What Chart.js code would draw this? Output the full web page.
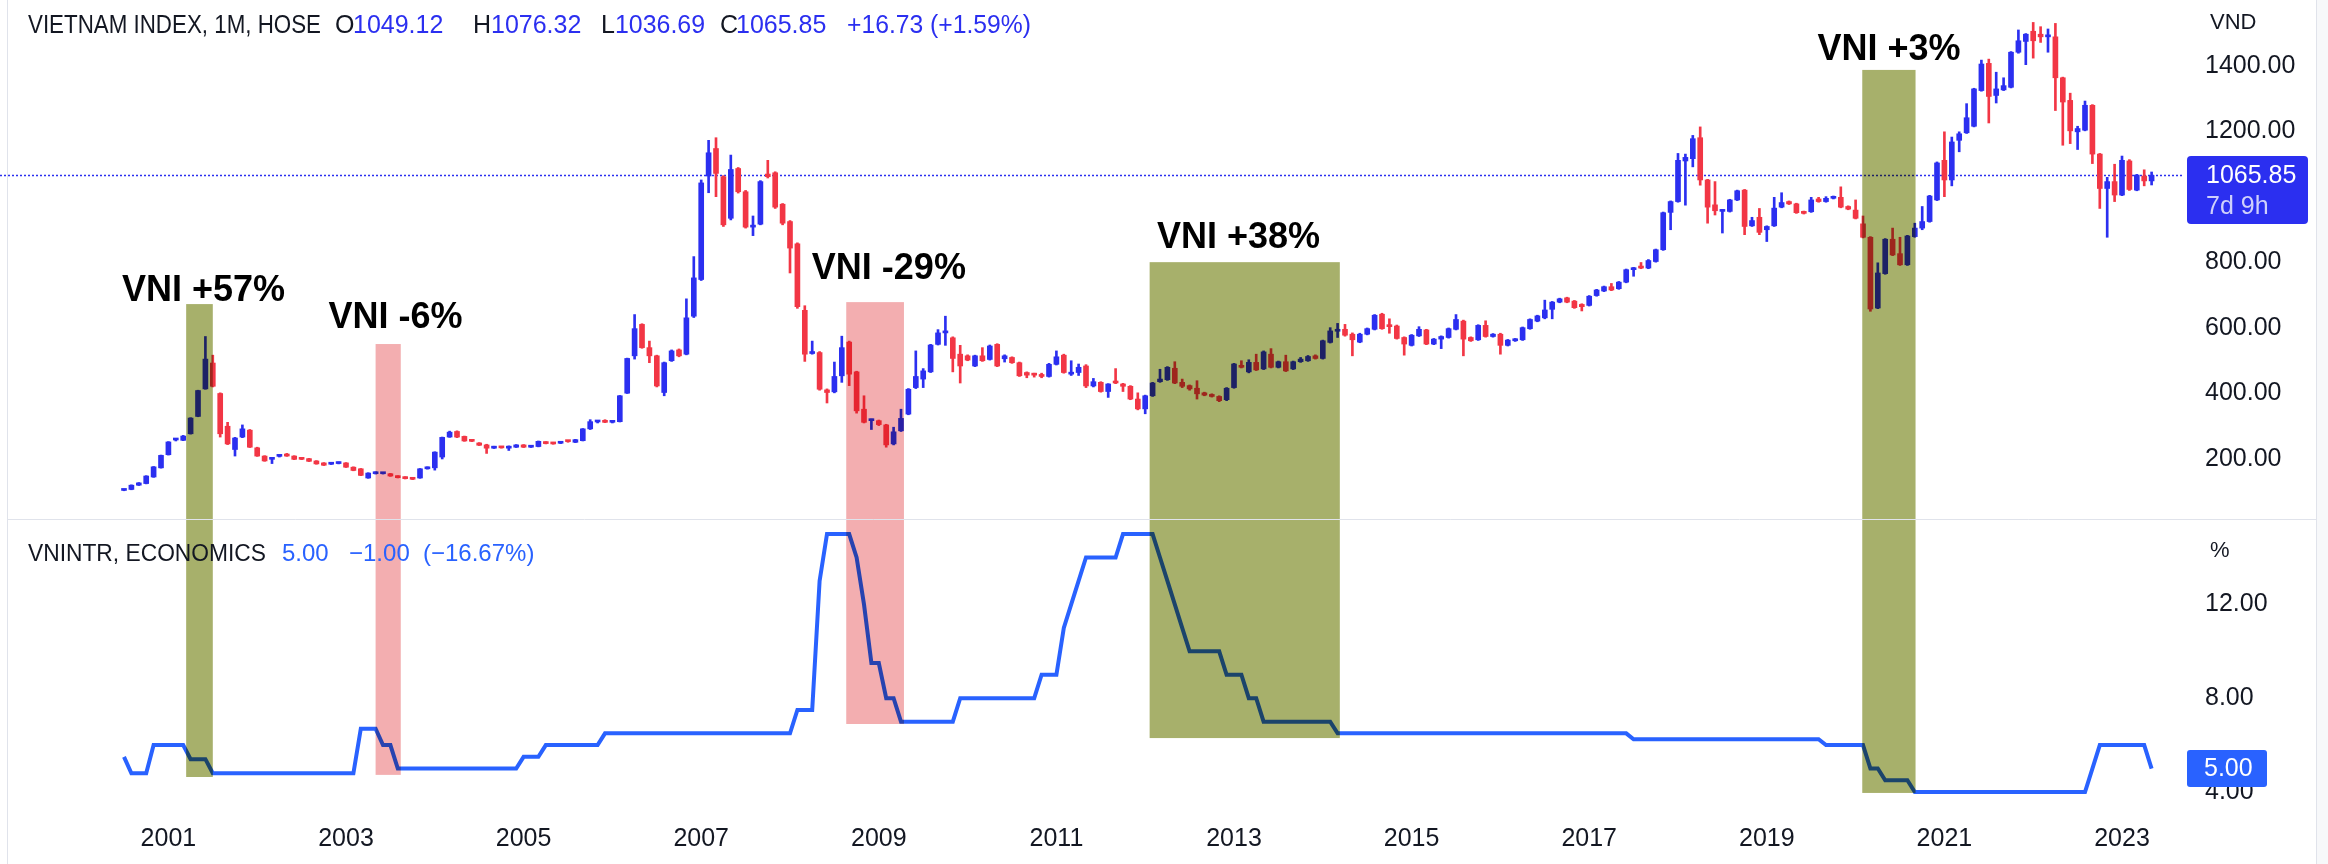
<!DOCTYPE html>
<html><head><meta charset="utf-8">
<script src="https://cdn.jsdelivr.net/npm/chart.js@4.4.0/dist/chart.umd.min.js"></script>
<style>
html,body{margin:0;padding:0;background:#fff;}
#wrap{position:relative;width:2328px;height:864px;overflow:hidden;}
#c1{position:absolute;left:0;top:0;}
#c2{position:absolute;left:0;top:520px;}
</style></head><body>
<div id="wrap"><canvas id="c1" width="2328" height="520"></canvas><canvas id="c2" width="2328" height="344"></canvas></div>
<script>
// ---- DATA: VN-Index monthly candles, index 0 = Jul 2000 ... 274 = May 2023 ----
const openP = [
104,107,120,125,145,173,213,258,257,277,
330,414,493,400,300,229,267,288,234,209,
199,208,215,209,203,201,194,188,184,186,
188,175,170,142,155,155,155,148,145,142,
142,170,173,206,267,284,269,259,249,243,
233,236,233,236,243,236,238,252,250,248,
256,251,256,292,313,317,312,314,401,515,
611,540,515,403,500,533,520,636,748,1064,
1148,1062,935,1087,1016,908,917,1070,1074,978,
925,857,654,522,525,411,405,454,557,466,
352,317,317,304,246,286,337,418,444,466,
550,585,570,520,515,484,515,504,550,506,
510,494,464,459,458,452,489,517,459,464,
484,423,434,406,434,429,422,383,353,393,
436,442,477,434,424,416,402,397,391,381,
418,485,466,495,475,520,480,497,475,497,
500,515,507,556,590,596,581,557,581,596,
642,606,606,571,547,576,594,551,566,571,
596,621,571,564,608,574,581,547,561,564,
598,621,631,657,679,692,682,672,669,699,
713,726,720,740,778,787,783,803,839,953,
986,1110,1117,1181,1052,976,956,956,991,1021,
912,938,900,912,969,986,979,955,955,994,
986,996,999,971,960,918,877,661,766,871,
827,793,879,905,925,991,1112,1052,1173,1196,
1216,1325,1408,1310,1327,1335,1442,1475,1506,1497,
1489,1489,1364,1295,1199,1204,1280,1131,1026,1047,
1006,1110,1021,1064,1049.12];
const highP = [
108,121,128,149,177,212,253,262,272,326,
410,574,517,402,312,266,304,290,236,210,
205,212,217,210,204,202,195,189,187,191,
189,176,171,158,161,159,156,149,146,143,
171,176,222,267,285,286,270,260,250,245,
239,237,240,244,244,240,255,253,251,251,
257,260,293,320,318,320,318,394,508,641,
613,560,517,496,533,536,689,818,1052,1173,
1181,1065,1128,1090,1020,942,1050,1112,1077,980,
928,860,668,560,528,414,496,575,560,468,
393,322,319,306,297,352,415,530,476,550,
595,636,573,547,518,517,540,548,552,518,
512,496,466,462,462,492,530,520,500,490,
488,446,436,430,476,431,424,402,395,434,
474,482,497,444,426,439,404,399,393,418,
492,500,503,520,530,537,499,517,499,510,
516,518,563,601,614,611,585,584,600,641,
645,628,609,573,580,604,596,568,576,600,
641,624,573,610,622,583,584,565,568,603,
628,639,685,681,691,694,684,674,699,718,
728,736,742,780,785,800,809,841,954,988,
1133,1131,1188,1214,1054,1047,962,993,1021,1023,
938,965,912,999,1013,988,981,957,999,999,
1001,1003,1031,973,991,942,879,799,873,905,
877,883,920,971,1005,1107,1199,1183,1199,1285,
1332,1418,1421,1381,1364,1444,1510,1499,1533,1520,
1513,1530,1366,1317,1216,1293,1282,1133,1060,1100,
1125,1114,1069,1083,1076.32];
const lowP = [
103,106,119,124,144,172,212,255,256,276,
329,413,420,267,244,209,265,235,208,193,
186,206,208,198,198,192,184,180,183,185,
174,164,149,141,154,154,147,142,139,137,
141,169,166,200,266,265,254,253,241,217,
232,233,226,235,235,235,237,246,245,247,
251,250,255,290,310,311,310,313,400,505,
538,494,420,393,498,512,518,632,745,1013,
1001,910,930,1012,905,882,915,1058,965,915,
768,660,498,520,410,371,402,434,424,340,
310,290,302,236,243,284,335,415,418,464,
548,547,466,432,500,482,498,502,482,496,
492,452,448,450,448,450,487,462,455,455,
418,420,404,388,430,406,381,350,338,391,
434,440,430,418,410,383,393,389,375,378,
416,478,463,470,473,478,478,467,473,495,
498,505,505,554,571,575,515,555,579,594,
596,584,566,517,545,574,549,549,537,569,
594,515,559,562,572,572,520,545,559,562,
596,619,628,628,677,677,660,652,667,697,
711,714,718,738,758,781,781,801,837,900,
984,975,1092,1036,920,945,890,954,989,885,
910,885,864,910,967,977,950,948,953,984,
984,994,967,961,933,875,651,659,764,821,
791,791,877,900,923,989,1001,1034,1138,1194,
1214,1323,1226,1287,1325,1333,1439,1404,1424,1472,
1442,1264,1158,1163,1145,1202,1102,965,877,986,
1004,1020,1019,1034,1036.69];
const closeP = [
107,120,127,148,176,211,252,260,270,325,
409,505,422,277,246,264,292,236,209,194,
203,211,209,199,199,193,185,181,186,190,
175,165,150,157,160,157,148,143,140,138,
170,174,221,266,282,267,255,254,242,233,
237,234,239,243,236,239,254,247,246,251,
253,259,292,314,315,312,317,393,507,598,
540,515,423,494,530,515,631,753,1043,1135,
1072,915,1084,1016,908,912,1047,1062,969,920,
844,665,520,525,413,403,452,540,459,347,
312,320,305,243,283,324,413,452,469,548,
585,590,507,484,502,515,500,545,484,515,
494,454,456,456,452,489,512,464,464,480,
423,436,406,429,432,422,383,353,393,432,
444,480,432,422,414,399,395,391,378,416,
490,480,495,472,527,480,497,469,497,505,
513,507,561,591,596,578,564,581,598,639,
598,604,568,551,578,596,551,566,574,598,
626,566,561,608,574,581,547,563,566,601,
626,637,655,679,689,679,662,665,697,716,
726,716,740,778,783,783,806,839,952,986,
1112,1121,1178,1052,969,958,959,991,1019,910,
928,892,910,966,983,979,952,950,991,986,
996,999,969,963,935,877,658,768,871,823,
793,881,905,925,1003,1104,1052,1168,1193,1242,
1330,1406,1307,1330,1340,1442,1477,1497,1477,1489,
1492,1364,1290,1202,1209,1280,1131,1026,1047,1006,
1112,1023,1067,1049.12,1065.85];
// ---- DATA: VNINTR refinancing rate (%), same months ----
const rate = [
5.5,4.8,4.8,4.8,6,6,6,6,6,5.4,
5.4,5.4,4.8,4.8,4.8,4.8,4.8,4.8,4.8,4.8,
4.8,4.8,4.8,4.8,4.8,4.8,4.8,4.8,4.8,4.8,
4.8,4.8,6.7,6.7,6.7,6,6,5,5,5,
5,5,5,5,5,5,5,5,5,5,
5,5,5,5,5.5,5.5,5.5,6,6,6,
6,6,6,6,6,6.5,6.5,6.5,6.5,6.5,
6.5,6.5,6.5,6.5,6.5,6.5,6.5,6.5,6.5,6.5,
6.5,6.5,6.5,6.5,6.5,6.5,6.5,6.5,6.5,6.5,
6.5,7.5,7.5,7.5,13,15,15,15,15,14,
12,9.5,9.5,8,8,7,7,7,7,7,
7,7,7,8,8,8,8,8,8,8,
8,8,8,8,9,9,9,11,12,13,
14,14,14,14,14,15,15,15,15,15,
14,13,12,11,10,10,10,10,10,9,
9,9,8,8,7,7,7,7,7,7,
7,7,7,7,6.5,6.5,6.5,6.5,6.5,6.5,
6.5,6.5,6.5,6.5,6.5,6.5,6.5,6.5,6.5,6.5,
6.5,6.5,6.5,6.5,6.5,6.5,6.5,6.5,6.5,6.5,
6.5,6.5,6.5,6.5,6.5,6.5,6.5,6.5,6.5,6.5,
6.5,6.5,6.5,6.5,6.25,6.25,6.25,6.25,6.25,6.25,
6.25,6.25,6.25,6.25,6.25,6.25,6.25,6.25,6.25,6.25,
6.25,6.25,6.25,6.25,6.25,6.25,6.25,6.25,6.25,6.25,
6,6,6,6,6,6,5,5,4.5,4.5,
4.5,4.5,4,4,4,4,4,4,4,4,
4,4,4,4,4,4,4,4,4,4,
4,4,4,4,4,4,5,6,6,6,
6,6,6,6,5];
// ---- tick labels ----
const yearLabels = ['2001','2003','2005','2007','2009','2011','2013','2015','2017','2019','2021','2023'];
const yearTickMonths = [6,30,54,78,102,126,150,174,198,222,246,270]; // months since Jul 2000 (January of each labelled year)
const priceTicks = [200,400,600,800,1200,1400];
const rateTicks = [4,8,12];
// ---- highlighted periods (months since Jul 2000, price top, rate bottom) ----
const boxStart = [8.4, 34.0, 97.6, 138.6, 234.9];
const boxEnd = [12.0, 37.4, 105.4, 164.3, 242.1];
const boxTopPrice = [673, 551, 679, 801, 1388];
const boxBottomRate = [4.64, 4.73, 6.9, 6.3, 3.96];
const boxKind = ['gain','loss','loss','gain','gain'];
const noteText = ['VNI +57%','VNI -6%','VNI -29%','VNI +38%','VNI +3%'];
const noteMonth = [-0.27, 27.62, 92.95, 139.59, 228.85];
const notePrice = [682, 600, 750, 844, 1418];

// ---- styling ----
const UP = '#2b2ff0', DOWN = '#f23645', RATEC = '#2962ff', TXT = '#131722';
const BOXFILL = {gain:'#a7b06b', loss:'#f3aeb0'};
const FONT = '"Liberation Sans", Arial, sans-serif';
Chart.defaults.font.family = FONT;
const xMin = -16.757, xMax = 278.243;
const last = closeP.length - 1;
const idx = closeP.map((_, i) => i);
const candleColors = idx.map(i => closeP[i] >= openP[i] ? UP : DOWN);

function frame(ctx, h){
  ctx.save();
  ctx.strokeStyle = '#e0e3eb'; ctx.lineWidth = 1;
  ctx.beginPath(); ctx.moveTo(7.5,0); ctx.lineTo(7.5,h); ctx.moveTo(2316.5,0); ctx.lineTo(2316.5,h); ctx.stroke();
  ctx.restore();
}
function bg(chart){
  const ctx = chart.ctx; ctx.save();
  ctx.fillStyle = '#fff'; ctx.fillRect(0,0,chart.width,chart.height);
  ctx.fillStyle = '#f7f8fa'; ctx.fillRect(2317,0,chart.width-2317,chart.height);
  ctx.restore();
}
function roundRect(ctx,x,y,w,h,r){
  ctx.beginPath(); ctx.moveTo(x+r,y); ctx.lineTo(x+w-r,y); ctx.quadraticCurveTo(x+w,y,x+w,y+r);
  ctx.lineTo(x+w,y+h-r); ctx.quadraticCurveTo(x+w,y+h,x+w-r,y+h); ctx.lineTo(x+r,y+h);
  ctx.quadraticCurveTo(x,y+h,x,y+h-r); ctx.lineTo(x,y+r); ctx.quadraticCurveTo(x,y,x+r,y); ctx.closePath();
}
function fixed2(v){ return v.toFixed(2); }
function signed(v){ return (v >= 0 ? '+' : '\u2212') + Math.abs(v).toFixed(2); }

const topOverlay = {
  id:'topOverlay',
  beforeDraw: bg,
  beforeDatasetsDraw(chart){
    const {ctx, scales:{y}, chartArea:a} = chart;
    const py = Math.round(y.getPixelForValue(closeP[last])) + 0.5;
    ctx.save(); ctx.strokeStyle = UP; ctx.lineWidth = 1.5; ctx.setLineDash([2,2]);
    ctx.beginPath(); ctx.moveTo(a.left,py); ctx.lineTo(a.right,py); ctx.stroke(); ctx.restore();
  },
  afterDatasetsDraw(chart){
    const {ctx, scales:{x,y}, chartArea:a} = chart;
    ctx.save(); ctx.globalCompositeOperation = 'multiply';
    for (let i=0;i<boxStart.length;i++){
      const x0 = x.getPixelForValue(boxStart[i]), x1 = x.getPixelForValue(boxEnd[i]);
      const y0 = y.getPixelForValue(boxTopPrice[i]);
      ctx.fillStyle = BOXFILL[boxKind[i]]; ctx.fillRect(x0,y0,x1-x0,a.bottom-y0);
    }
    ctx.restore();
    ctx.save(); ctx.fillStyle = '#000'; ctx.font = 'bold 36px ' + FONT; ctx.textBaseline = 'alphabetic'; ctx.textAlign='left';
    for (let i=0;i<noteText.length;i++){
      ctx.fillText(noteText[i], x.getPixelForValue(noteMonth[i]), y.getPixelForValue(notePrice[i]));
    }
    ctx.restore();
  },
  afterDraw(chart){
    const {ctx, scales:{y}} = chart;
    ctx.save();
    ctx.textBaseline = 'middle'; ctx.textAlign = 'left'; ctx.font = '25px ' + FONT;
    const chg = closeP[last] - closeP[last-1];
    const pct = chg / closeP[last-1] * 100;
    const segs = [
      ['VIETNAM INDEX, 1M, HOSE', 28, TXT, 293],
      ['O', 335, TXT], [fixed2(openP[last]), 353, UP, 100],
      ['H', 473, TXT], [fixed2(highP[last]), 491, UP, 92],
      ['L', 601, TXT], [fixed2(lowP[last]), 615, UP, 90],
      ['C', 720, TXT], [fixed2(closeP[last]), 736, UP, 91],
      [(chg>=0?'+':'\u2212') + Math.abs(chg).toFixed(2) + ' (' + (pct>=0?'+':'\u2212') + Math.abs(pct).toFixed(2) + '%)', 847, UP, 184]
    ];
    segs.forEach(s => { ctx.fillStyle = s[2]; if (s[3]) ctx.fillText(s[0], s[1], 26, s[3]); else ctx.fillText(s[0], s[1], 26); });
    ctx.fillStyle = TXT; ctx.font = '22px ' + FONT; ctx.fillText('VND', 2210, 23);
    // last price label
    const py = y.getPixelForValue(closeP[last]);
    ctx.fillStyle = UP; roundRect(ctx, 2187, py-19.5, 121, 68, 4); ctx.fill();
    ctx.font = '25px ' + FONT;
    ctx.fillStyle = '#fff'; ctx.fillText(fixed2(closeP[last]), 2206, py+1);
    ctx.fillStyle = '#cfd0fb'; ctx.fillText('7d 9h', 2206, py+32);
    // separator
    ctx.strokeStyle = '#e0e3eb'; ctx.lineWidth = 1;
    ctx.beginPath(); ctx.moveTo(7,519.5); ctx.lineTo(2317,519.5); ctx.stroke();
    ctx.restore();
    frame(ctx, chart.height);
  }
};

const botOverlay = {
  id:'botOverlay',
  beforeDraw: bg,
  afterDatasetsDraw(chart){
    const {ctx, scales:{x,y}} = chart;
    ctx.save(); ctx.globalCompositeOperation = 'multiply';
    for (let i=0;i<boxStart.length;i++){
      const x0 = x.getPixelForValue(boxStart[i]), x1 = x.getPixelForValue(boxEnd[i]);
      const y1 = y.getPixelForValue(boxBottomRate[i]);
      ctx.fillStyle = BOXFILL[boxKind[i]]; ctx.fillRect(x0,0,x1-x0,y1);
    }
    ctx.restore();
  },
  afterDraw(chart){
    const {ctx, scales:{y}} = chart;
    ctx.save();
    ctx.textBaseline = 'middle'; ctx.textAlign = 'left'; ctx.font = '24px ' + FONT;
    const ch = rate[last] - rate[last-1];
    const pc = ch / rate[last-1] * 100;
    ctx.fillStyle = TXT; ctx.fillText('VNINTR, ECONOMICS', 28, 34, 238);
    ctx.fillStyle = RATEC;
    ctx.fillText(fixed2(rate[last]), 282, 34);
    ctx.fillText(signed(ch), 349, 34);
    ctx.fillText('(' + signed(pc) + '%)', 423, 34, 112);
    ctx.fillStyle = TXT; ctx.font = '22px ' + FONT; ctx.fillText('%', 2210, 31);
    const py = y.getPixelForValue(rate[last]);
    ctx.fillStyle = RATEC; roundRect(ctx, 2187, py-18.5, 80, 37, 3); ctx.fill();
    ctx.fillStyle = '#fff'; ctx.font = '25px ' + FONT; ctx.fillText(fixed2(rate[last]), 2204, py+1);
    ctx.restore();
    frame(ctx, chart.height);
  }
};

const common = {
  responsive:false, animation:false, devicePixelRatio:1, events:[],
  layout:{padding:0},
  plugins:{legend:{display:false}, tooltip:{enabled:false}, title:{display:false}}
};

new Chart(document.getElementById('c1'), {
  type:'bar',
  data:{datasets:[
    {data: idx.map(i => ({x:i, y:[openP[i], closeP[i]]})), backgroundColor: candleColors, barThickness:5, grouped:false, minBarLength:2},
    {data: idx.map(i => ({x:i, y:[lowP[i], highP[i]]})), backgroundColor: candleColors, barThickness:2, grouped:false}
  ]},
  options: Object.assign({}, common, {
    scales:{
      x:{type:'linear', display:false, min:xMin, max:xMax, offset:false},
      y:{type:'linear', position:'right', min:13.7, max:1601.5,
         grid:{display:false, drawTicks:false}, border:{display:false},
         afterFit(s){ s.width = 145; s.paddingTop = 0; s.paddingBottom = 0; },
         afterBuildTicks(s){ s.ticks = priceTicks.map(v => ({value:v})); },
         ticks:{padding:22, color:TXT, font:{size:25}, callback: v => fixed2(v)}}
    }
  }),
  plugins:[topOverlay]
});

new Chart(document.getElementById('c2'), {
  type:'line',
  data:{datasets:[
    {data: idx.map(i => ({x:i, y:rate[i]})), borderColor:RATEC, borderWidth:4, pointRadius:0, tension:0, fill:false}
  ]},
  options: Object.assign({}, common, {
    scales:{
      x:{type:'linear', min:xMin, max:xMax, offset:false,
         grid:{display:false, drawTicks:false}, border:{display:false},
         afterFit(s){ s.height = 54; s.paddingLeft = 0; s.paddingRight = 0; },
         afterBuildTicks(s){ s.ticks = yearTickMonths.map(v => ({value:v})); },
         ticks:{padding:14, color:TXT, font:{size:25}, autoSkip:false, maxRotation:0,
                callback: v => yearLabels[yearTickMonths.indexOf(v)]}},
      y:{type:'linear', position:'right', min:3.2324, max:15.599,
         grid:{display:false, drawTicks:false}, border:{display:false},
         afterFit(s){ s.width = 145; s.paddingTop = 0; s.paddingBottom = 0; },
         afterBuildTicks(s){ s.ticks = rateTicks.map(v => ({value:v})); },
         ticks:{padding:22, color:TXT, font:{size:25}, callback: v => fixed2(v)}}
    }
  }),
  plugins:[botOverlay]
});
</script>
</body></html>
